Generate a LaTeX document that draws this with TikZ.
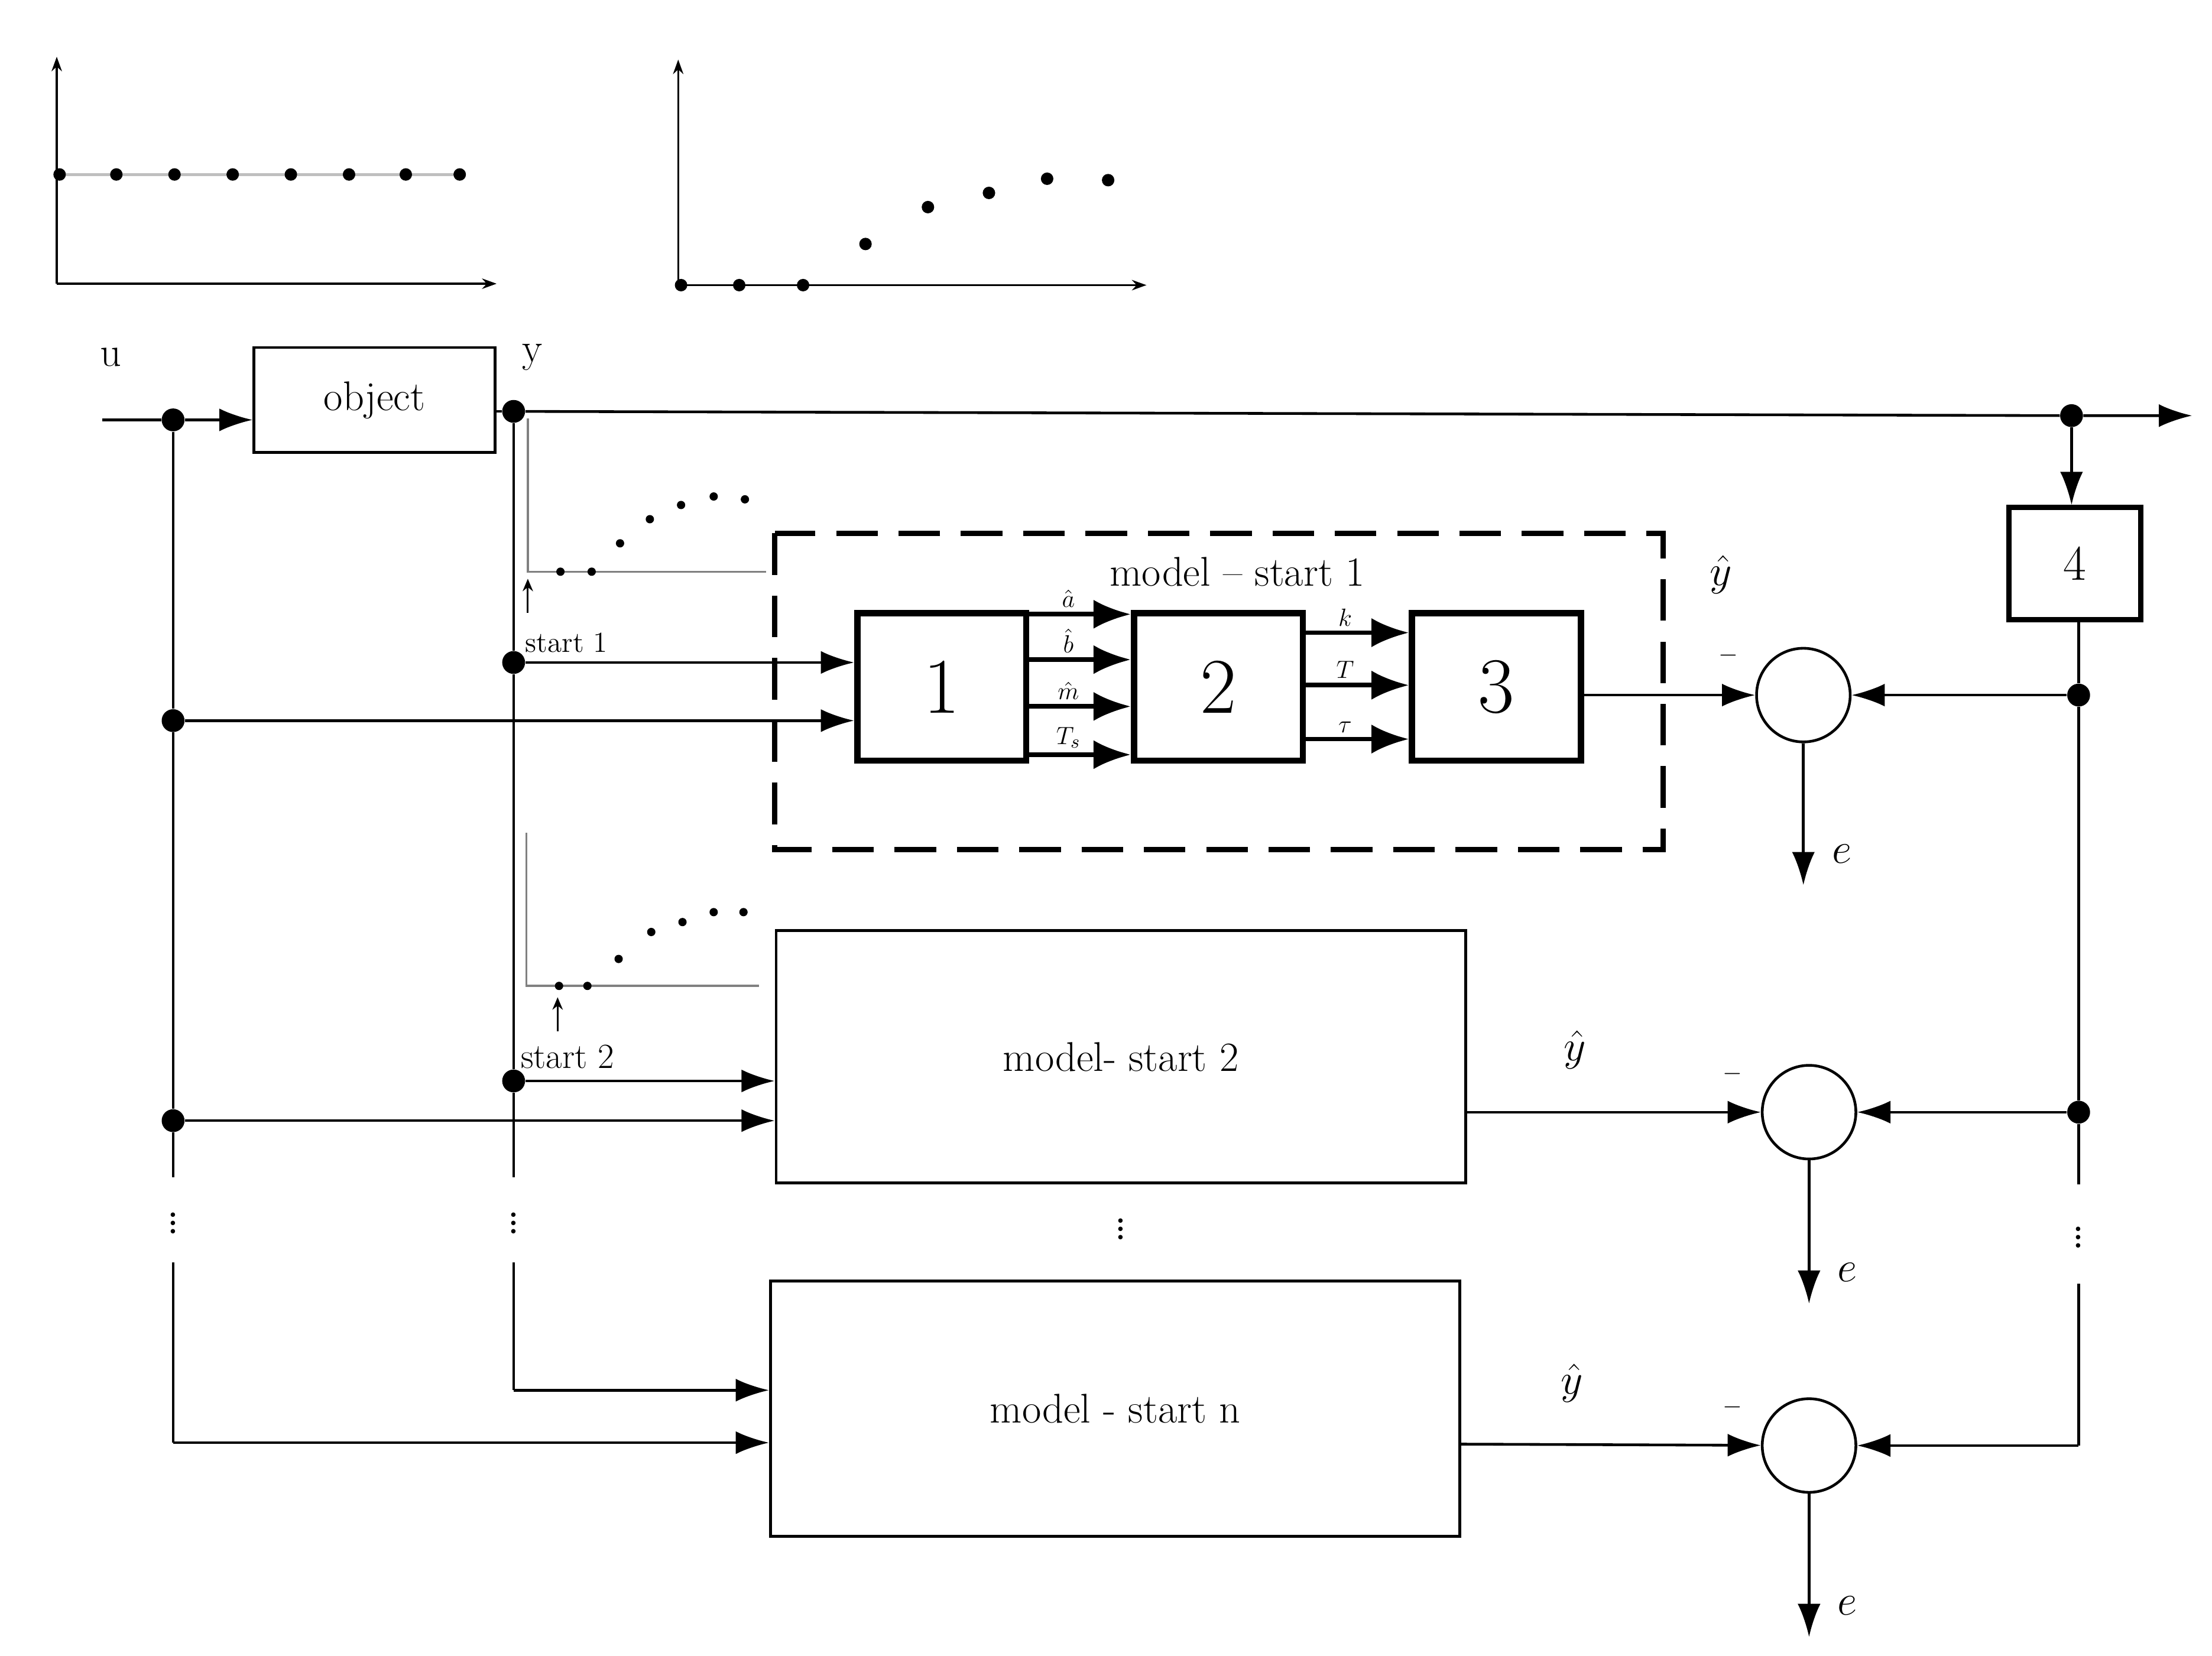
\documentclass[tikz,border=0pt]{standalone}
\usetikzlibrary{arrows.meta}
\begin{document}
\begin{tikzpicture}[x=0.024cm,y=-0.024cm,
  ln/.style={line width=1.3pt},
  ar/.style={ln,-{Latex[length=16pt,width=11pt]}},
  thar/.style={line width=2.2pt,-{Latex[length=18pt,width=14pt]}},
  axis/.style={line width=1pt,-{Stealth[length=7pt,width=5pt]}},
  dot/.style={circle,fill,inner sep=0pt,minimum size=11pt},
  sdot/.style={circle,fill,inner sep=0pt,minimum size=6pt},
  box/.style={draw,line width=1.3pt,inner sep=0pt,anchor=north west},
  bbox/.style={draw,line width=3pt,inner sep=0pt,anchor=north west,font=\fontsize{38}{44}\selectfont},
  sum/.style={draw,line width=1.3pt,circle,minimum size=66*0.024cm,inner sep=0pt},
  txt/.style={font=\fontsize{20}{24}\selectfont},
  vd/.style={font=\fontsize{26}{30}\selectfont,inner sep=0pt},
  sm/.style={font=\fontsize{13}{15}\selectfont,inner sep=1pt},
  lab/.style={font=\fontsize{14}{16}\selectfont}]
\useasboundingbox (0,0) rectangle (1559,1167);
% top plots
\draw[axis] (40,200) -- (40,40);
\draw[axis] (40,200) -- (350,200);
\draw[gray!50,line width=1.5pt] (42,123) -- (324,123);
\foreach \x in {42,82,123,164,205,246,286,324} \node[sdot] at (\x,123) {};
\draw[axis] (478,201) -- (478,42);
\draw[axis] (478,201) -- (808,201);
\foreach \p in {(480,201),(521,201),(566,201),(610,172),(654,146),(697,136),(738,126),(781,127)} \node[sdot] at \p {};
% object
\node[txt] (u) at (78,252) {u};
\node[box,minimum width=170*0.024cm,minimum height=74*0.024cm,txt] (obj) at (178,244) {object};
\node[txt] (ylab) at (375,252) {y};
\coordinate (uin) at (72,296);
\node[dot] (du) at (122,296) {};
\draw[ln] (uin) -- (du);
\draw[ar] (du) -- (178,296);
\node[dot] (dy) at (362,290) {};
\draw[ln] (348,290) -- (dy);
\coordinate (yout) at (1545,293);
\node[dot] (d4) at (1460,293) {};
\draw[ar] (dy) -- (d4) -- (yout);
\node[box,line width=2.5pt,minimum width=93*0.024cm,minimum height=79*0.024cm,font=\fontsize{24}{28}\selectfont] (b4) at (1414,356) {4};
\draw[ar] (d4) -- (1460,356);
% right feedback line
\node[dot] (r1) at (1465,490) {};
\node[dot] (r2) at (1465,784) {};
\draw[ln] (1465,435) -- (r1) -- (r2) -- (1465,835);
\node[vd] at (1465,868) {$\vdots$};
\draw[ln] (1465,905) -- (1465,1019);
% u line
\node[dot] (u1) at (122,508) {};
\node[dot] (u2) at (122,790) {};
\draw[ln] (du) -- (u1) -- (u2) -- (122,830);
\node[vd] at (122,858) {$\vdots$};
\draw[ln] (122,890) -- (122,1017);
% y line
\node[dot] (y1) at (362,467) {};
\node[dot] (y2) at (362,762) {};
\draw[ln] (dy) -- (y1) -- (y2) -- (362,830);
\node[vd] at (362,858) {$\vdots$};
\draw[ln] (362,890) -- (362,980);
% small plot 1
\draw[gray,line width=1pt] (372,295) -- (372,403) -- (540,403);
\foreach \p in {(395,403),(417,403),(437,383),(458,366),(480,356),(503,350),(525,352)} \node[sdot,minimum size=4pt] at \p {};
\draw[line width=0.8pt,-{Stealth[length=6pt,width=5pt]}] (372,432) -- (372,408);
\node[lab,anchor=west] at (365,453) {start 1};
% model 1
\draw[line width=2.5pt,dash pattern=on 20pt off 10pt] (546,376) rectangle (1172,599);
\node[txt] at (872,403) {model -- start 1};
\node[bbox,minimum width=119*0.024cm,minimum height=104*0.024cm] (b1) at (602,430) {1};
\node[bbox,minimum width=119*0.024cm,minimum height=104*0.024cm] (b2) at (797,430) {2};
\node[bbox,minimum width=119*0.024cm,minimum height=104*0.024cm] (b3) at (993,430) {3};
\draw[ar] (y1) -- (602,467);
\draw[ar] (u1) -- (602,508);
\foreach \y/\l in {433/{\hat a},465/{\hat b},498/{\hat m},532/{T_s}} {
  \draw[thar] (724,\y) -- (797,\y);
  \node[sm,anchor=south] at (753,\y-3) {$\l$};}
\foreach \y/\l in {446/k,483/T,521/\tau} {
  \draw[thar] (919,\y) -- (993,\y);
  \node[sm,anchor=south] at (948,\y-3) {$\l$};}
\node[sum] (s1) at (1271,490) {};
\draw[ar] (1112,490) -- (s1);
\draw[ar] (r1) -- (s1);
\node[sm] at (1218,462) {$-$};
\node[txt] at (1213,405) {$\hat y$};
\coordinate (e1) at (1271,624);
\draw[ar] (s1) -- (e1);
\node[txt] at (1298,602) {$e$};
% small plot 2
\draw[gray,line width=1pt] (371,587) -- (371,695) -- (535,695);
\foreach \p in {(394,695),(414,695),(436,676),(459,657),(481,650),(503,643),(524,643)} \node[sdot,minimum size=4pt] at \p {};
\draw[line width=0.8pt,-{Stealth[length=6pt,width=5pt]}] (393,727) -- (393,703);
\node[anchor=west,font=\fontsize{17}{20}\selectfont] at (362,745) {start 2};
% model 2
\node[box,minimum width=486*0.024cm,minimum height=178*0.024cm,txt] (m2) at (546,655) {model- start 2};
\draw[ar] (y2) -- (546,762);
\draw[ar] (u2) -- (546,790);
\node[sum] (s2) at (1275,784) {};
\draw[ar] (1032,784) -- (s2);
\draw[ar] (r2) -- (s2);
\node[sm] at (1221,757) {$-$};
\node[txt] at (1110,740) {$\hat y$};
\coordinate (e2) at (1275,919);
\draw[ar] (s2) -- (e2);
\node[txt] at (1302,897) {$e$};
\node[vd] at (790,862) {$\vdots$};
% model n
\node[box,minimum width=486*0.024cm,minimum height=180*0.024cm,txt] (mn) at (542,902) {model - start n};
\draw[ar] (362,980) -- (542,980);
\draw[ar] (122,1017) -- (542,1017);
\node[sum] (s3) at (1275,1019) {};
\draw[ar] (1028,1018) -- (s3);
\draw[ar] (1465,1019) -- (s3);
\node[sm] at (1221,992) {$-$};
\node[txt] at (1108,975) {$\hat y$};
\coordinate (e3) at (1275,1154);
\draw[ar] (s3) -- (e3);
\node[txt] at (1302,1132) {$e$};
\end{tikzpicture}
\end{document}
